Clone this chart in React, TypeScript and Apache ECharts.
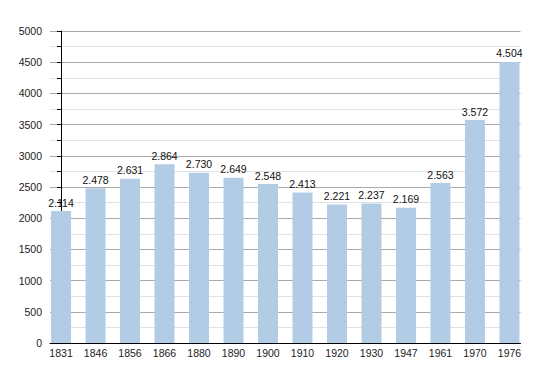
import React, { useEffect, useRef } from "react";
import * as echarts from "echarts";

const years = ["1831", "1846", "1856", "1866", "1880", "1890", "1900", "1910", "1920", "1930", "1947", "1961", "1970", "1976"];
const population = [2114, 2478, 2631, 2864, 2730, 2649, 2548, 2413, 2221, 2237, 2169, 2563, 3572, 4504];
const yTicks = [0, 500, 1000, 1500, 2000, 2500, 3000, 3500, 4000, 4500, 5000];

const fmt = (v: number) => String(v).replace(/\B(?=(\d{3})+(?!\d))/g, ".");

export default function App() {
  const ref = useRef<HTMLDivElement>(null);
  useEffect(() => {
    if (!ref.current) return;
    const chart = echarts.init(ref.current, null, { renderer: "svg" });
    const font = "'Liberation Sans', Arial, sans-serif";
    chart.setOption({
      animation: false,
      grid: { left: 50, right: 29.5, top: 31, bottom: 30, containLabel: false },
      xAxis: {
        type: "value",
        min: -0.32,
        max: 13.32,
        z: 0,
        splitLine: { show: false },
        axisLine: { show: true, lineStyle: { color: "#000", width: 1 } },
        axisTick: { show: false },
        axisLabel: {
          customValues: years.map((_, i) => i),
          formatter: (v: number) => years[Math.round(v)] ?? "",
          color: "#222",
          fontSize: 10.5,
          fontFamily: font,
          margin: 4,
        },
      },
      yAxis: {
        type: "value",
        min: yTicks[0],
        max: yTicks[yTicks.length - 1],
        interval: 500,
        z: 0,
        axisLine: { show: true, lineStyle: { color: "#000", width: 1 } },
        axisTick: { show: true, length: 4, lineStyle: { color: "#000" } },
        minorTick: { show: true, splitNumber: 2, length: 4, lineStyle: { color: "#000" } },
        splitLine: { show: true, lineStyle: { color: "#aaaaaa", width: 1 } },
        minorSplitLine: { show: true, lineStyle: { color: "#e2e2e2", width: 1 } },
        axisLabel: {
          color: "#222",
          fontSize: 10.5,
          fontFamily: font,
          margin: 8,
          formatter: (v: number) => String(v),
        },
      },
      series: [
        {
          type: "bar",
          z: 10,
          data: population.map((v, i) => [i, v]),
          barWidth: 20,
          itemStyle: { color: "#b3cce6" },
          label: {
            show: true,
            position: "top",
            distance: 3,
            color: "#111",
            fontSize: 10.5,
            fontFamily: font,
            formatter: (p: any) => fmt(p.value[1]),
          },
        },
      ],
    });
    return () => chart.dispose();
  }, []);
  return <div ref={ref} style={{ width: 550, height: 373, position: "absolute", left: 0, top: 0 }} />;
}
